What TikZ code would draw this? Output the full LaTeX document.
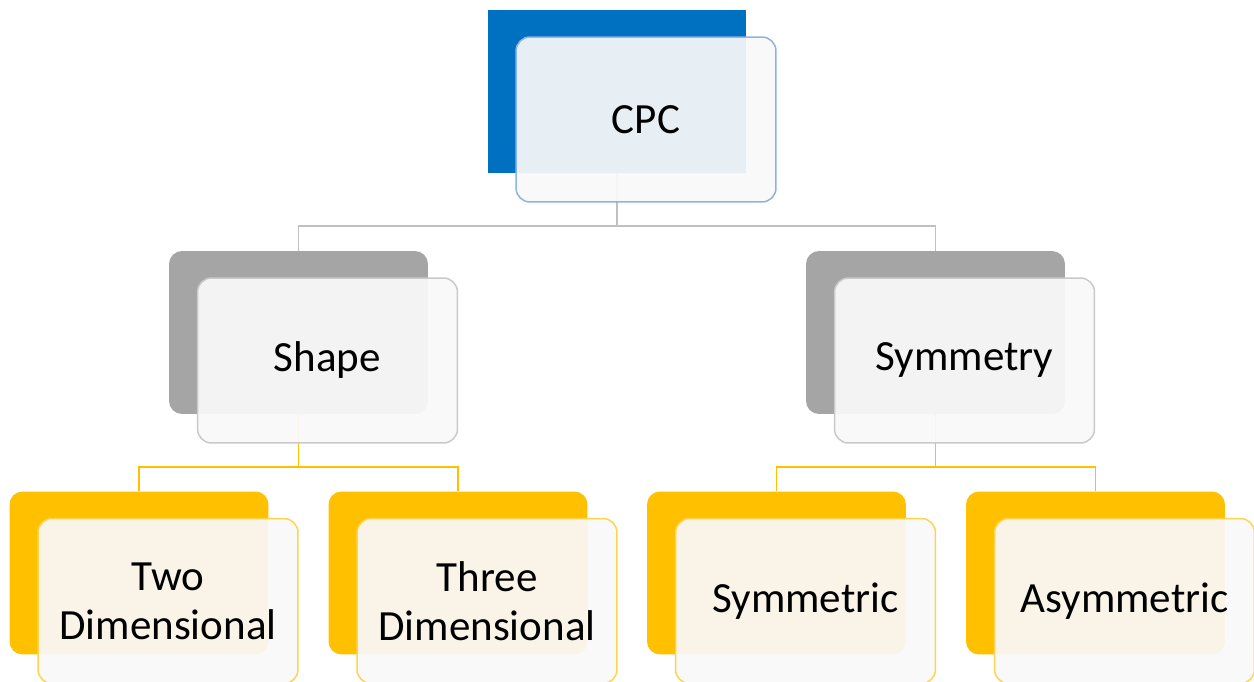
\documentclass[tikz,border=0pt]{standalone}
\usepackage{fontspec}
\setmainfont{Carlito}
\usetikzlibrary{positioning}
\definecolor{cpcblue}{HTML}{0070C0}
\definecolor{cpcedge}{HTML}{8DB3E2}
\definecolor{backgray}{HTML}{A5A5A5}
\definecolor{grayedge}{HTML}{C9C9C9}
\definecolor{backyellow}{HTML}{FFC000}
\definecolor{yellowedge}{HTML}{FFD34D}
\definecolor{linegray}{HTML}{C0C0C0}
\definecolor{frontfill}{HTML}{F9F9F9}
\begin{document}
\begin{tikzpicture}[x=0.02cm,y=-0.02cm,
  back/.style={minimum width=5.18cm,minimum height=3.26cm,inner sep=0,rounded corners=0.26cm},
  front/.style={minimum width=5.2cm,minimum height=3.3cm,inner sep=0,rounded corners=0.28cm,
    fill=frontfill,fill opacity=0.93,text opacity=1,line width=0.85pt,align=center,
    font=\fontsize{24.5}{28}\selectfont},
  link/.style={line width=0.85pt}]
  \useasboundingbox (0,0) rectangle (1254,682);
  % connectors
  \coordinate (cpcjoin) at (617,226);
  \coordinate (shapejoin) at (298.5,467);
  \coordinate (symjoin) at (935.5,467);
  % back boxes
  \node [back,fill=cpcblue,rounded corners=0] (cpcback) at (617,91.5) {};
  \node [back,fill=backgray] (shapeback) at (298.5,332.5) {};
  \node [back,fill=backgray] (symmetryback) at (935.5,332.5) {};
  \foreach \name/\x in {twoback/139,threeback/458,symmetricback/776.5,asymmetricback/1095.5}{
    \node [back,fill=backyellow] (\name) at (\x,573) {};
  }
  \draw [link,linegray] (cpcback.south) -- (cpcjoin) -| (shapeback.north);
  \draw [link,linegray] (cpcjoin) -| (symmetryback.north);
  \draw [link,backyellow] (shapeback.south) -- (shapejoin) -| (twoback.north);
  \draw [link,backyellow] (shapejoin) -| (threeback.north);
  \draw [link,backyellow] (symmetryback.south) -- (symjoin) -| (symmetricback.north);
  \draw [link,backyellow] (symjoin) -| (asymmetricback.north);
  % front boxes
  \node [front,draw=cpcedge] (cpc) at ([shift={(29,28)}]cpcback.center) {CPC};
  \node [front,draw=grayedge] (shape) at ([shift={(29,28)}]shapeback.center) {Shape};
  \node [front,draw=grayedge] (symmetry) at ([shift={(29,28)}]symmetryback.center) {Symmetry};
  \node [front,draw=yellowedge] (two) at ([shift={(29,28)}]twoback.center) {Two\\Dimensional};
  \node [front,draw=yellowedge] (three) at ([shift={(29,28)}]threeback.center) {Three\\Dimensional};
  \node [front,draw=yellowedge] (symmetric) at ([shift={(29,28)}]symmetricback.center) {Symmetric};
  \node [front,draw=yellowedge] (asymmetric) at ([shift={(29,28)}]asymmetricback.center) {Asymmetric};
\end{tikzpicture}
\end{document}
